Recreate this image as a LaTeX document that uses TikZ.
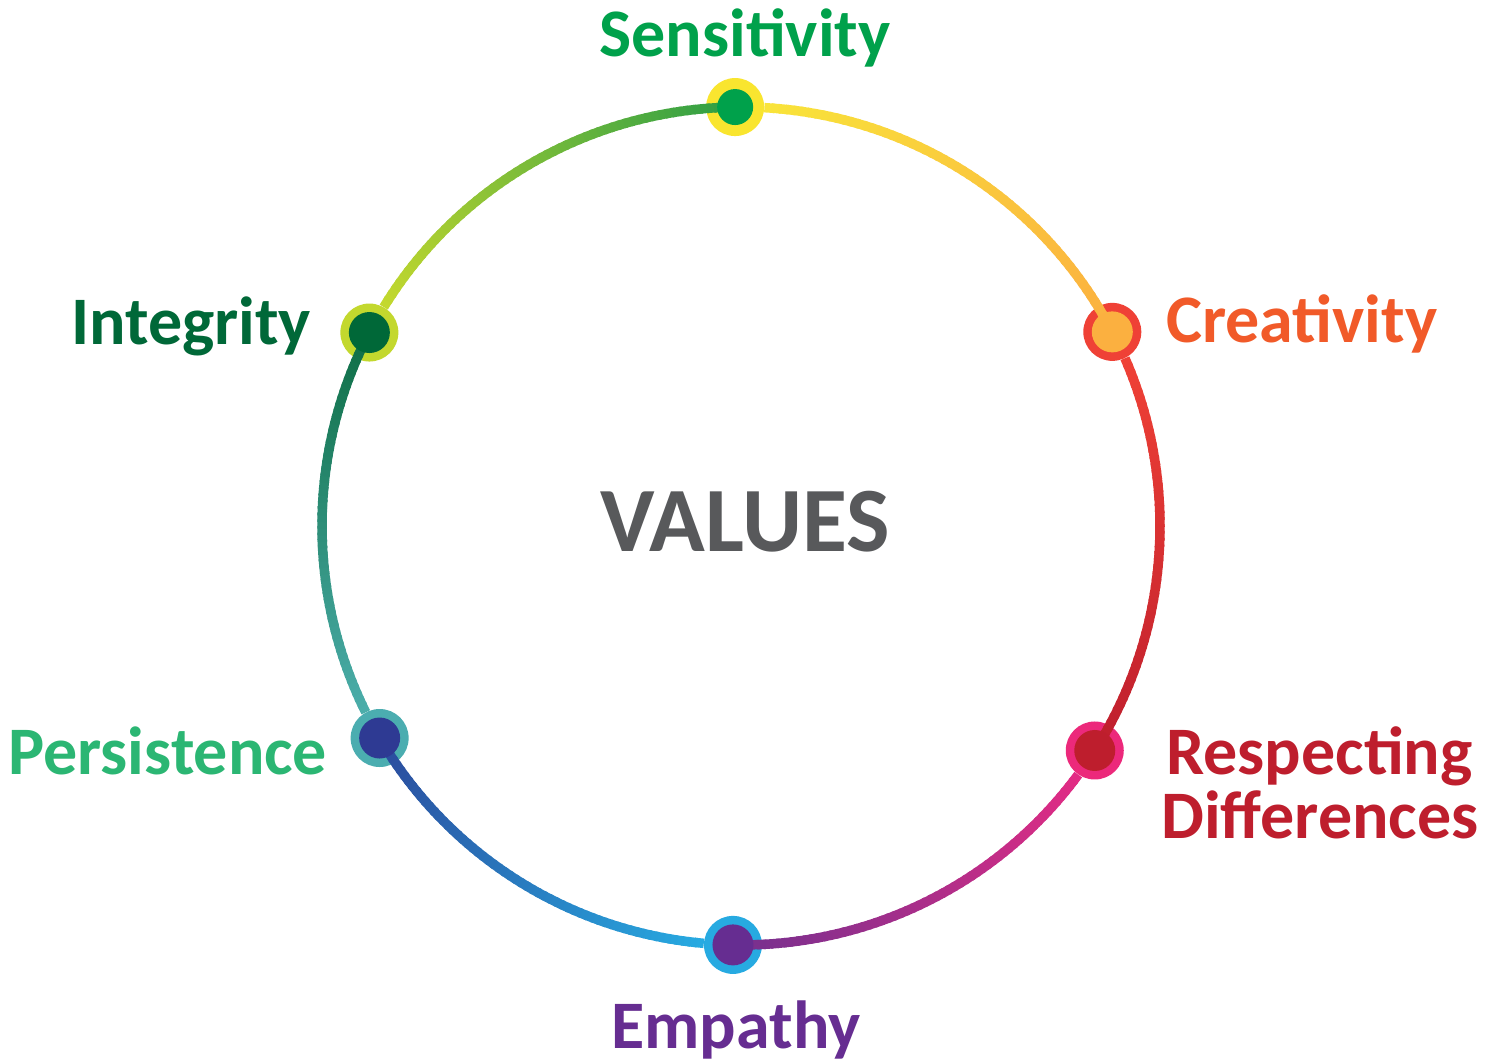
\documentclass[tikz,border=0pt]{standalone}
\usepackage{fontspec}
\setmainfont{Carlito}
\definecolor{cSens}{HTML}{00A14B}
\definecolor{cCrea}{HTML}{F15A29}
\definecolor{cResp}{HTML}{BE1E2D}
\definecolor{cEmp}{HTML}{662D91}
\definecolor{cPers}{HTML}{2BB673}
\definecolor{cInt}{HTML}{006838}
\definecolor{cVal}{HTML}{58595B}
% ring colours
\definecolor{rSens}{HTML}{F9E52F}
\definecolor{rCrea}{HTML}{EF4136}
\definecolor{rResp}{HTML}{EC297B}
\definecolor{rEmp}{HTML}{27AAE1}
\definecolor{rPers}{HTML}{4BADB0}
\definecolor{rInt}{HTML}{C3D82E}
% dot colours
\definecolor{dSens}{HTML}{00A14B}
\definecolor{dCrea}{HTML}{FBB040}
\definecolor{dResp}{HTML}{BE1E2D}
\definecolor{dEmp}{HTML}{662D91}
\definecolor{dPers}{HTML}{2E3A93}
\definecolor{dInt}{HTML}{006838}
% arc gradient colours
\definecolor{a1s}{HTML}{F9E43A}\definecolor{a1e}{HTML}{FBB040}
\definecolor{a2s}{HTML}{EF4136}\definecolor{a2e}{HTML}{BE1E2D}
\definecolor{a3s}{HTML}{E22C84}\definecolor{a3e}{HTML}{75308F}
\definecolor{a4s}{HTML}{27AAE1}\definecolor{a4e}{HTML}{2B4A9C}
\definecolor{a5s}{HTML}{4BADAA}\definecolor{a5e}{HTML}{0F6E45}
\definecolor{a6s}{HTML}{C3D82E}\definecolor{a6e}{HTML}{2E9E45}
\newcommand\gradarc[4]{%
  \foreach \k in {0,...,59}{%
    \pgfmathsetmacro\ta{#1+(#2-#1)*\k/60}%
    \pgfmathsetmacro\tb{#1+(#2-#1)*(\k+1.4)/60}%
    \pgfmathsetmacro\pc{100-100*\k/59}%
    \draw[arcline, color=#3!\pc!#4] (\ta:419pt) arc[start angle=\ta, end angle=\tb, radius=419pt];
  }}
\begin{document}
\begin{tikzpicture}[
  arcline/.style={line width=9.5pt, line cap=butt},
  ring/.style={circle, inner sep=0pt, minimum size=58pt},
  dot/.style={circle, inner sep=0pt, minimum size=41pt},
  lbl/.style={inner sep=0pt, font=\fontsize{68}{70}\selectfont\bfseries},
]
\useasboundingbox[fill=white] (0,0) rectangle (1501pt,1063pt);
\begin{scope}[shift={(741pt,537pt)}]
  % rings
  \node[ring, fill=rSens] (rs) at (90.8:419pt) {};
  \node[ring, fill=rCrea] (rc) at (27.6:419pt) {};
  \node[ring, fill=rResp] (rr) at (-32.4:419pt) {};
  \node[ring, fill=rEmp]  (re) at (-91.1:419pt) {};
  \node[ring, fill=rPers] (rp) at (-149.6:419pt) {};
  \node[ring, fill=rInt]  (ri) at (152.5:419pt) {};
  % arcs (clockwise, each ends in the centre of the next marker)
  \gradarc{86.8}{27.6}{a1s}{a1e}
  \gradarc{23.6}{-32.4}{a2s}{a2e}
  \gradarc{-36.4}{-91.1}{a3s}{a3e}
  \gradarc{-95.1}{-149.6}{a4s}{a4e}
  \gradarc{-153.6}{-207.5}{a5s}{a5e}
  \gradarc{148.5}{90.8}{a6s}{a6e}
  % dots
  \node[dot, fill=dSens, minimum size=36pt] (ds) at (rs) {};
  \node[dot, fill=dCrea] (dc) at (rc) {};
  \node[dot, fill=dResp] (dr) at (rr) {};
  \node[dot, fill=dEmp]  (de) at (re) {};
  \node[dot, fill=dPers] (dp) at (rp) {};
  \node[dot, fill=dInt]  (di) at (ri) {};
\end{scope}
% labels
\node[lbl, text=cSens, anchor=base] (tsens) at (745pt,1006pt) {Sensitivity};
\node[lbl, text=cCrea, anchor=base west] (tcrea) at (1166pt,720pt) {Creativity};
\node[lbl, text=cResp, anchor=base west] (tresp1) at (1166pt,288pt) {Respecting};
\node[lbl, text=cResp, anchor=base west] (tresp2) at (1161pt,225pt) {Differences};
\node[lbl, text=cEmp, anchor=base] (temp) at (736pt,15pt) {Empathy};
\node[lbl, text=cPers, anchor=base west] (tpers) at (8pt,288pt) {Persistence};
\node[lbl, text=cInt, anchor=base west] (tint) at (71pt,718pt) {Integrity};
\node[inner sep=0pt, text=cVal, font=\fontsize{92}{94}\selectfont\bfseries, anchor=base] (tval) at (745pt,511pt) {VALUES};
\end{tikzpicture}
\end{document}
